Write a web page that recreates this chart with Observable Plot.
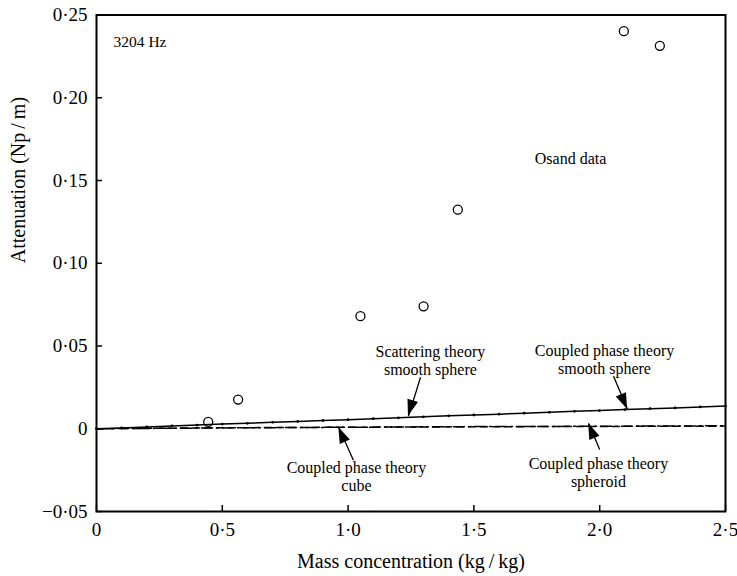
<!DOCTYPE html>
<html>
<head>
<meta charset="utf-8">
<script src="https://cdn.jsdelivr.net/npm/d3@7"></script>
<script src="https://cdn.jsdelivr.net/npm/@observablehq/plot@0.6"></script>
<style>
  html, body { margin: 0; padding: 0; background: #fff; }
  #chart { width: 737px; height: 576px; }
</style>
</head>
<body>
<div id="chart"></div>
<script>
// Axis ticks
const xTicks = [0, 0.5, 1.0, 1.5, 2.0, 2.5];
const yTicks = [-0.05, 0, 0.05, 0.10, 0.15, 0.20, 0.25];

// Osand measurements at 3204 Hz
const osandConc = [0.444, 0.563, 1.049, 1.300, 1.436, 2.096, 2.239];
const osandAtten = [0.0041, 0.0176, 0.0680, 0.0740, 0.1324, 0.2402, 0.2314];

// Smooth-sphere predictions (scattering theory and coupled phase theory coincide)
const sphereConc = [0, 0.1, 0.2, 0.3, 0.4, 0.5, 0.6, 0.7, 0.8, 0.9, 1.0, 1.1, 1.2,
  1.3, 1.4, 1.5, 1.6, 1.7, 1.8, 1.9, 2.0, 2.1, 2.2, 2.3, 2.4, 2.5];
const sphereAtten = [0, 0.0005, 0.0011, 0.0017, 0.0022, 0.0028, 0.0033, 0.0039, 0.0044,
  0.0050, 0.0055, 0.0061, 0.0066, 0.0072, 0.0078, 0.0083, 0.0088, 0.0094, 0.0099,
  0.0105, 0.0110, 0.0116, 0.0121, 0.0126, 0.0132, 0.0137];

// Coupled phase theory, cube and spheroid
const shapeConc = [0, 0.5, 1.0, 1.5, 2.0, 2.5];
const cubeAtten = [0, 0.0006, 0.0009, 0.0012, 0.0014, 0.0016];
const spheroidAtten = [0, 0.0005, 0.0009, 0.0013, 0.0015, 0.0018];

const osand = osandConc.map((x, i) => ({x, y: osandAtten[i]}));
const sphere = sphereConc.map((x, i) => ({x, y: sphereAtten[i]}));
const cube = shapeConc.map((x, i) => ({x, y: cubeAtten[i]}));
const spheroid = shapeConc.map((x, i) => ({x, y: spheroidAtten[i]}));

// Annotation labels and their pointers
const notes = [
  {text: "Osand data", x: 1.884, y: 0.1634},
  {text: "Scattering theory\nsmooth sphere", x: 1.327, y: 0.0414},
  {text: "Coupled phase theory\nsmooth sphere", x: 2.019, y: 0.0420},
  {text: "Coupled phase theory\ncube", x: 1.033, y: -0.0287},
  {text: "Coupled phase theory\nspheroid", x: 1.995, y: -0.0263}
];
const pointers = [
  {x1: 1.288, y1: 0.0311, x2: 1.240, y2: 0.0076},
  {x1: 2.055, y1: 0.0317, x2: 2.111, y2: 0.0116},
  {x1: 1.021, y1: -0.0190, x2: 0.963, y2: 0.0007},
  {x1: 2.000, y1: -0.0126, x2: 1.956, y2: 0.0031}
];

// Tick labels use a raised decimal point
const fmtX = d => d === 0 ? "0" : d.toFixed(1).replace(".", "\u00b7");
const fmtY = d => d === 0 ? "0" : (d < 0 ? "\u2212" : "") + Math.abs(d).toFixed(2).replace(".", "\u00b7");

const chart = Plot.plot({
  width: 737,
  height: 576,
  marginLeft: 96,
  marginRight: 12,
  marginTop: 14.5,
  marginBottom: 65,
  style: {fontFamily: "'Liberation Serif', 'Times New Roman', serif", background: "#fff", color: "#000"},
  x: {domain: [0, 2.5]},
  y: {domain: [-0.05, 0.25]},
  marks: [
    Plot.axisX({ticks: xTicks, tickFormat: fmtX, tickSize: 6, dy: -6, tickPadding: 11,
      fontSize: 19, strokeWidth: 1.5, label: null}),
    Plot.axisY({ticks: yTicks, tickFormat: fmtY, tickSize: 6, dx: 6, tickPadding: 9,
      fontSize: 19, strokeWidth: 1.5, label: null}),
    Plot.text(["Attenuation (Np\u2009/\u2009m)"], {frameAnchor: "left", rotate: -90, dx: -78, fontSize: 20}),
    Plot.text(["Mass concentration (kg\u2009/\u2009kg)"], {frameAnchor: "bottom", dy: 56, fontSize: 20}),
    Plot.lineY(cube, {x: "x", y: "y", stroke: "#000", strokeWidth: 1.5, strokeDasharray: "7,5"}),
    Plot.lineY(spheroid, {x: "x", y: "y", stroke: "#000", strokeWidth: 1.5, strokeDasharray: "11,4,2,4"}),
    Plot.lineY(sphere, {x: "x", y: "y", stroke: "#000", strokeWidth: 1.5}),
    Plot.dot(sphere, {x: "x", y: "y", r: 1.4, fill: "#000"}),
    Plot.dot(osand, {x: "x", y: "y", r: 4.5, stroke: "#000", strokeWidth: 1.3, fill: "none"}),
    Plot.text(["3204 Hz"], {x: 0.0676, y: 0.2335, textAnchor: "start", fontSize: 15.5}),
    Plot.text(notes, {x: "x", y: "y", text: "text", fontSize: 16, lineHeight: 1.15}),
    Plot.link(pointers, {x1: "x1", y1: "y1", x2: "x2", y2: "y2", stroke: "#000", strokeWidth: 1.3}),
    Plot.frame({stroke: "#000", strokeWidth: 2})
  ]
});

// Filled arrowheads at the pointer tips, placed through the chart's scales
const sx = chart.scale("x"), sy = chart.scale("y");
const headLen = 16, headHalf = 5.5;
d3.select(chart).append("g")
  .attr("fill", "#000")
  .selectAll("path")
  .data(pointers)
  .join("path")
  .attr("d", p => {
    const ax = sx.apply(p.x1), ay = sy.apply(p.y1);
    const bx = sx.apply(p.x2), by = sy.apply(p.y2);
    const L = Math.hypot(bx - ax, by - ay);
    const ux = (bx - ax) / L, uy = (by - ay) / L;
    const cx = bx - ux * headLen, cy = by - uy * headLen;
    return `M${bx},${by}L${cx - uy * headHalf},${cy + ux * headHalf}L${cx + uy * headHalf},${cy - ux * headHalf}Z`;
  });

document.getElementById("chart").appendChild(chart);
</script>
</body>
</html>
